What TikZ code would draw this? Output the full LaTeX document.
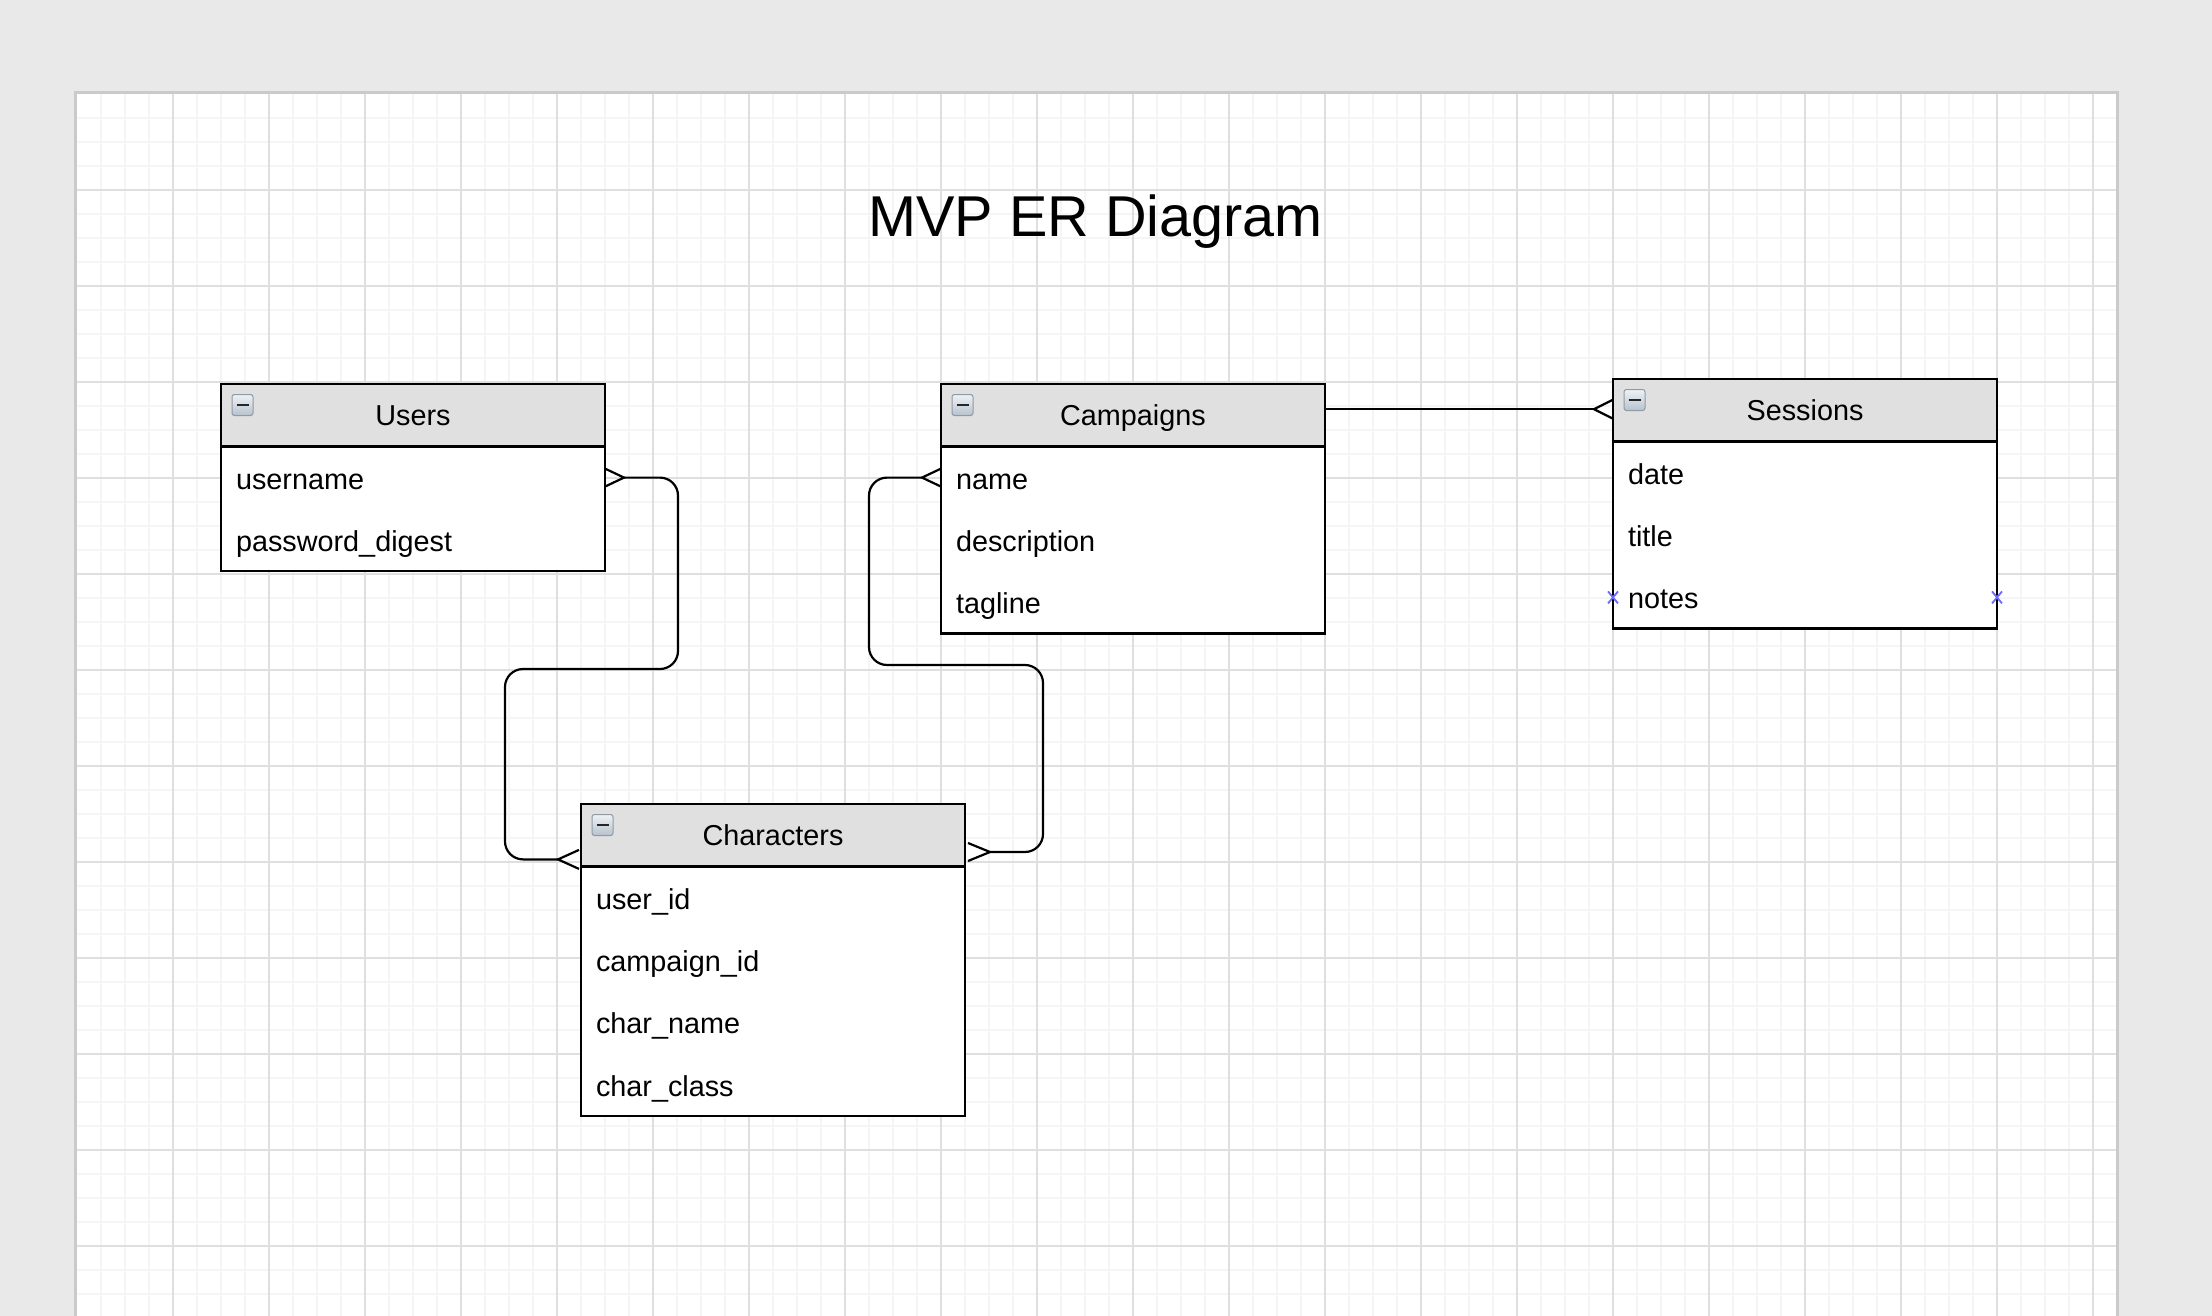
\documentclass[tikz,border=0pt]{standalone}
\usepackage{fontspec}
\setmainfont{Liberation Sans}
\usetikzlibrary{calc}
\definecolor{bggray}{HTML}{E9E9E9}
\definecolor{pageedge}{HTML}{CACACA}
\definecolor{gridminor}{HTML}{F5F5F5}
\definecolor{gridmajor}{HTML}{DFDFDF}
\definecolor{hdrgray}{HTML}{E0E0E0}
\definecolor{icontop}{HTML}{EEF2F6}
\definecolor{iconbot}{HTML}{B7C2CC}
\definecolor{iconedge}{HTML}{8E9BA7}
\definecolor{markblue}{HTML}{6B6BFF}
\begin{document}
\begin{tikzpicture}[x=0.5pt,y=-0.5pt,
  tbhdr/.style={draw=black, line width=1.2pt, fill=hdrgray, minimum width=192pt,
    minimum height=31.2pt, inner sep=0pt, outer sep=0pt, anchor=north west,
    text height=9.8pt, text depth=0pt, font=\fontsize{14.4}{17}\selectfont},
  tbbody/.style={draw=black, line width=1.2pt, fill=white, minimum width=192pt,
    inner sep=0pt, outer sep=0pt, anchor=north west},
  tbrow/.style={minimum height=31.2pt, text width=177pt, inner xsep=7.5pt, inner ysep=0pt,
    align=left, anchor=north west, outer sep=0pt, text height=11.4pt, text depth=0pt,
    font=\fontsize{14.4}{17}\selectfont},
  conn/.style={line width=1.1pt, rounded corners=9pt},
  crow/.style={line width=1.1pt},
  collapseicon/.style={draw=iconedge, line width=0.5pt, rounded corners=1.2pt,
    top color=icontop, bottom color=iconbot},
  bluex/.style={draw=markblue, line width=0.9pt}
]
\useasboundingbox (0,0) rectangle (2212,1316);
% background and page
\fill[bggray] (0,0) rectangle (2212,1316);
\fill[pageedge] (74,91) rectangle (2119,1316);
\fill[white] (77,94) rectangle (2116,1316);
\begin{scope}
\clip (77,94) rectangle (2116,1316);
\foreach \xx in {101,125,...,2093} \draw[gridminor, line width=0.6pt] (\xx,94) -- (\xx,1316);
\foreach \yy in {118,142,...,1294} \draw[gridminor, line width=0.6pt] (77,\yy) -- (2116,\yy);
\foreach \xx in {173,269,...,2093} \draw[gridmajor, line width=0.6pt] (\xx,94) -- (\xx,1316);
\foreach \yy in {190,286,...,1246} \draw[gridmajor, line width=0.6pt] (77,\yy) -- (2116,\yy);
\end{scope}

% title
\node[anchor=base, inner sep=0pt, font=\fontsize{28.8}{34}\selectfont] (title) at (1095.5,236.7) {MVP ER Diagram};

% Users
\node[tbbody, minimum height=62.4pt] (ub) at (221,446.4) {};
\node[tbhdr] (uh) at (221,384) {Users};
\node[tbrow] (u1) at (221,446.4) {username};
\node[tbrow] (u2) at (221,508.8) {password\_digest};

% Campaigns
\node[tbbody, minimum height=93.6pt] (cb) at (941,446.4) {};
\node[tbhdr] (cmh) at (941,384) {Campaigns};
\node[tbrow] (c1) at (941,446.4) {name};
\node[tbrow] (c2) at (941,508.8) {description};
\node[tbrow] (c3) at (941,571.2) {tagline};

% Sessions
\node[tbbody, minimum height=93.6pt] (sb) at (1613,441.4) {};
\node[tbhdr] (sh) at (1613,379) {Sessions};
\node[tbrow] (s1) at (1613,441.4) {date};
\node[tbrow] (s2) at (1613,503.8) {title};
\node[tbrow] (s3) at (1613,566.2) {notes};

% Characters
\node[tbbody, minimum height=124.8pt] (chb) at (581,866.4) {};
\node[tbhdr] (chh) at (581,804) {Characters};
\node[tbrow] (ch1) at (581,866.4) {user\_id};
\node[tbrow] (ch2) at (581,928.8) {campaign\_id};
\node[tbrow] (ch3) at (581,991.2) {char\_name};
\node[tbrow] (ch4) at (581,1053.6) {char\_class};

% collapse icons
\foreach \h in {uh,cmh,sh,chh} {
  \path[collapseicon] ($(\h.north west)+(11,10.5)$) rectangle ($(\h.north west)+(32,31.5)$);
  \draw[black!85, line width=1.4pt] ($(\h.north west)+(15.5,21)$) -- ($(\h.north west)+(27.5,21)$);
}

% Users -- Characters
\draw[conn] ($(u1.east)+(19,0)$) -| (678,669) -| (505,859.4) -- ($(chh.south west)+(-23,-7)$);
\draw[crow] ($(u1.east)+(0,-9)$) -- ($(u1.east)+(19,0)$) -- ($(u1.east)+(0,9)$);
\draw[crow] ($(chh.south west)+(-2,-16.5)$) -- ($(chh.south west)+(-23,-7)$) -- ($(chh.south west)+(-2,2.5)$);

% Campaigns -- Characters
\draw[conn] ($(c1.west)+(-19,0)$) -| (869,665) -| (1043,852) -- ($(chh.east)+(25,16.8)$);
\draw[crow] ($(c1.west)+(0,-9)$) -- ($(c1.west)+(-19,0)$) -- ($(c1.west)+(0,9)$);
\draw[crow] ($(chh.east)+(3,7.8)$) -- ($(chh.east)+(25,16.8)$) -- ($(chh.east)+(3,25.8)$);

% Campaigns -- Sessions
\draw[conn] ($(cmh.east |- sh.west)+(0,-1)$) -- ($(sh.west)+(-19,-1)$);
\draw[crow] ($(sh.west)+(0,-10.5)$) -- ($(sh.west)+(-19,-1)$) -- ($(sh.west)+(0,8.5)$);

% connection point markers
\foreach \p in {s3.west,s3.east} {
  \draw[bluex] ($(\p)+(-5,-6)$) -- ($(\p)+(5,6)$);
  \draw[bluex] ($(\p)+(-5,6)$) -- ($(\p)+(5,-6)$);
}
\end{tikzpicture}
\end{document}
